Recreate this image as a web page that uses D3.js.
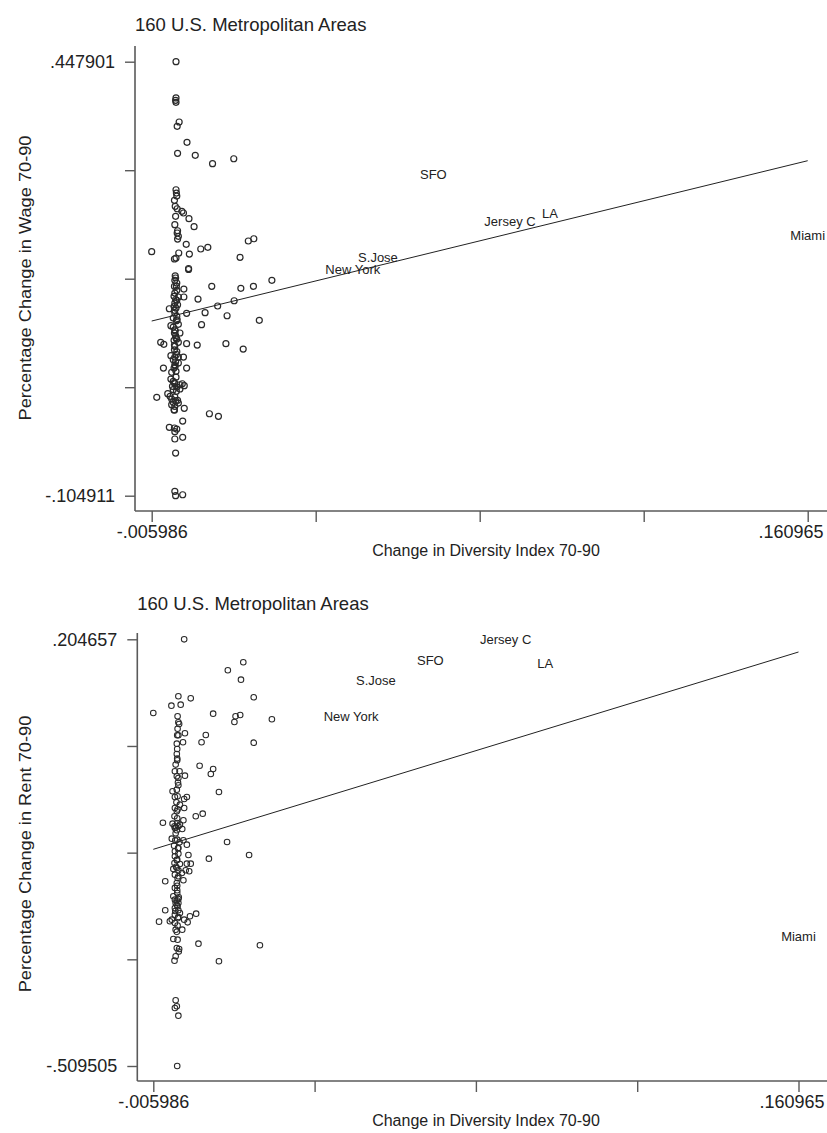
<!DOCTYPE html>
<html><head><meta charset="utf-8">
<script src="https://cdn.jsdelivr.net/npm/d3@7"></script>
<style>
body{margin:0;background:#fff}
text{font-family:"Liberation Sans",Arial,Helvetica,sans-serif;fill:#222}
</style>
</head><body>
<svg id="c" width="827" height="1133"></svg>
<script>
// ---------- data ----------
const chartTitle = "160 U.S. Metropolitan Areas";
const xTitle = "Change in Diversity Index 70-90";
const wageTitle = "Percentage Change in Wage 70-90";
const rentTitle = "Percentage Change in Rent 70-90";

const divExtent = [-0.005986, 0.160965];
const divTickLabels = ["-.005986", ".160965"];
const wageExtent = [-0.104911, 0.447901];
const wageTickLabels = ["-.104911", ".447901"];
const rentExtent = [-0.509505, 0.204657];
const rentTickLabels = ["-.509505", ".204657"];

const cityNames = ["SFO", "Jersey C", "LA", "S.Jose", "New York", "Miami"];
const cityDiv   = [0.0657, 0.0852, 0.0954, 0.0516, 0.0452, 0.160965];
const cityWage  = [0.3045, 0.2441, 0.2548, 0.1982, 0.1835, 0.2268];
const cityRent  = [0.1700, 0.2040, 0.1650, 0.1365, 0.0763, -0.2919];

// fitted lines: [intercept, slope]
const wageFit = [0.1249, 1.2231];
const rentFit = [-0.1350, 1.978];

const wageX = [
0.0002,0.0002,0.0001,0.0002,0.0010,0.0005,0.0030,0.0006,0.0051,0.0095,
0.0149,0.0002,0.0003,0.0004,-0.0002,0.0000,0.0005,0.0017,0.0021,0.0001,
0.0035,-0.0001,0.0048,0.0006,0.0005,0.0008,0.0006,0.0028,-0.00599,0.0009,
0.0036,0.0065,0.0083,0.0186,0.0200,-0.0002,0.0002,0.0165,0.0034,0.0034,
0.0093,0.0167,0.0199,0.0246,0.0058,0.0150,0.0108,0.0076,0.0029,0.0132,
0.0067,0.0214,0.0056,0.0129,0.0173,-0.0037,-0.0029,0.0029,
0.0001,-0.0001,0.0004,-0.0002,0.0022,0.0004,-0.0001,-0.0003,0.0022,0.0008,
0.0004,-0.0001,0.0006,0.0002,-0.0015,-0.0002,-0.0001,0.0004,-0.0005,0.0005,
0.0008,-0.0011,-0.0005,-0.0001,-0.0002,0.0012,0.0001,0.0004,-0.0003,0.0008,
-0.0001,-0.0002,0.0004,-0.0011,-0.0001,0.0008,0.0021,-0.0005,0.0001,
-0.0030,-0.0001,0.0008,-0.0003,0.0002,0.0029,-0.0009,
-0.0011,-0.0005,-0.0001,-0.0007,0.0004,0.0012,0.0018,0.0023,0.0012,-0.0005,
-0.0047,-0.0019,-0.0013,-0.0009,-0.0001,0.0006,-0.0005,0.0008,-0.0009,-0.0001,-0.0003,0.0023,
0.0087,0.0110,0.0019,-0.0015,-0.0002,-0.0001,-0.0001,0.0019,0.0001,-0.0001,0.0001,0.0019,
0.0000,0.0003,0.0001,-0.0003,0.0003,0.0000,0.0002,-0.0002,0.0003,0.0000,0.0002,-0.0002,0.0003,0.0001,-0.0002,0.0004
];
const wageY = [
0.4479,0.4017,0.3987,0.3962,0.3711,0.3656,0.3452,0.3312,0.3287,0.3180,
0.3243,0.2848,0.2806,0.2768,0.2713,0.2637,0.2606,0.2573,0.2552,0.2510,
0.2479,0.2403,0.2377,0.2326,0.2297,0.2255,0.2220,0.2153,0.2059,0.2042,
0.2029,0.2093,0.2115,0.2195,0.2224,0.1966,0.1978,0.1987,0.1845,0.1832,
0.1618,0.1592,0.1618,0.1694,0.1456,0.1434,0.1367,0.1282,0.1274,0.1243,
0.1129,0.1185,0.0870,0.0887,0.0819,0.0904,0.0879,0.0887,
0.1724,0.1694,0.1660,0.1618,0.1583,0.1567,0.1532,0.1490,0.1482,0.1482,
0.1439,0.1405,0.1383,0.1341,0.1332,0.1312,0.1278,0.1236,0.1214,0.1192,
0.1134,0.1116,0.1099,0.1065,0.1023,0.1023,0.0989,0.0946,0.0930,0.0904,
0.0854,0.0810,0.0785,0.0734,0.0717,0.0717,0.0717,0.0683,0.0657,
0.0577,0.0619,0.0641,0.0577,0.0535,0.0577,0.0522,
0.0437,0.0408,0.0377,0.0344,0.0335,0.0364,0.0377,0.0352,0.0310,0.0301,
0.0204,0.0250,0.0217,0.0182,0.0208,0.0166,0.0140,0.0131,0.0110,0.0089,0.0046,0.0064,
-0.0005,-0.0038,-0.0098,-0.0178,-0.0187,-0.0234,-0.0327,-0.0306,-0.0506,-0.0994,-0.1049,-0.1037,
0.1750,0.1620,0.1450,0.1360,0.1180,0.1050,0.0960,0.0870,0.0750,0.0600,0.0460,0.0390,0.0280,0.0160,0.0040,-0.0200
];

const rentX = [
0.0020,0.0173,0.0133,0.0167,0.0200,0.0005,0.0037,-0.0013,0.0011,-0.00599,
0.0095,0.0003,0.0153,0.0165,0.0150,0.0247,0.0005,0.0007,0.0002,0.0005,
0.0022,0.0076,0.0017,0.0065,0.0200,0.0002,0.0001,0.0002,0.0060,0.0095,
0.0089,-0.0004,0.0008,0.0001,0.0005,0.0022,0.0005,0.0001,-0.0010,0.0110,
-0.0004,0.0020,0.0027,0.0009,-0.0004,0.0020,0.0001,0.0050,0.0068,-0.0005,
-0.0035,-0.0010,0.0002,0.0009,0.0018,0.0005,-0.0004,0.0015,0.0001,-0.0005,
-0.0012,0.0002,0.0018,0.0027,0.0008,-0.0006,0.0005,-0.0004,0.0005,0.0131,
0.0031,0.0188,0.0084,-0.0004,0.0002,-0.0005,0.0009,0.0027,0.0037,-0.0008,
0.0001,0.0005,0.0024,0.0033,0.0014,-0.0004,0.0005,0.0018,-0.0029,0.0001,
-0.0004,0.0002,-0.0008,-0.0004,0.0001,0.0005,-0.0002,0.0005,0.0003,-0.0004,
-0.0029,0.0005,0.0009,-0.0004,0.0005,0.0051,0.0035,0.0020,0.0029,-0.0045,
-0.0017,-0.0012,-0.0004,0.0003,0.0015,-0.0002,-0.0008,0.0003,0.0057,0.0216,
0.0001,0.0007,-0.0002,-0.0005,0.0110,-0.0002,0.0001,-0.0004,0.0005,0.0002,
0.0003,0.0001,-0.0002,0.0004,0.0000,0.0002,-0.0002,0.0004,0.0001,-0.0001,0.0003,0.0002,
0.0001,-0.0003,0.0004,0.0001,0.0006,-0.0001,0.0002,0.0003,0.0003,-0.0003,0.0006,0.0002
];
const rentY = [
0.2046,0.1662,0.1528,0.1371,0.1076,0.1093,0.1059,0.0936,0.0952,0.0813,
0.0802,0.0758,0.0758,0.0780,0.0663,0.0708,0.0658,0.0629,0.0440,0.0440,
0.0474,0.0445,0.0323,0.0323,0.0316,0.0211,0.0127,0.0022,-0.0069,-0.0124,
-0.0208,-0.0162,-0.0162,-0.0246,-0.0274,-0.0236,-0.0397,-0.0470,-0.0497,-0.0509,
-0.0592,-0.0626,-0.0592,-0.0721,-0.0777,-0.0777,-0.0832,-0.0915,-0.0872,-0.0915,
-0.1023,-0.1039,-0.1028,-0.1056,-0.0982,-0.1083,-0.1111,-0.1128,-0.1150,-0.1083,
-0.1290,-0.1307,-0.1317,-0.1391,-0.1351,-0.1408,-0.1446,-0.1501,-0.1541,-0.1346,
-0.1563,-0.1563,-0.1625,-0.1585,-0.1642,-0.1697,-0.1714,-0.1709,-0.1709,-0.1797,
-0.1781,-0.1819,-0.1819,-0.1836,-0.1864,-0.1893,-0.1920,-0.1987,-0.2003,-0.2032,
-0.2115,-0.2154,-0.2254,-0.2311,-0.2321,-0.2300,-0.2367,-0.2367,-0.2422,-0.2450,
-0.2489,-0.2489,-0.2534,-0.2562,-0.2601,-0.2546,-0.2589,-0.2646,-0.2690,-0.2679,
-0.2673,-0.2646,-0.2701,-0.2746,-0.2813,-0.2813,-0.2969,-0.2981,-0.3048,-0.3074,
-0.3120,-0.3136,-0.3259,-0.3332,-0.3342,-0.3995,-0.4095,-0.4124,-0.4253,-0.5095,
0.0550,0.0300,-0.0050,-0.0350,-0.0680,-0.0950,-0.1200,-0.1450,-0.1650,-0.1760,-0.1950,-0.2200,
-0.2400,-0.2500,-0.2620,-0.2850,-0.3180,-0.1100,-0.2080,-0.0800,-0.0580,-0.1320,-0.2270,0.0050
];

// ---------- drawing ----------
const svg = d3.select("#c");
const AXIS_COLOR = "#5a5a5a";

function drawPanel(cfg) {
  const g = svg.append("g");
  const x = d3.scaleLinear().domain(divExtent).range([cfg.xL, cfg.xR]);
  const y = d3.scaleLinear().domain(cfg.yExtent).range([cfg.yB, cfg.yT]);
  const xt = d3.range(5).map(i => divExtent[0] + i * (divExtent[1] - divExtent[0]) / 4);
  const yt = d3.range(5).map(i => cfg.yExtent[0] + i * (cfg.yExtent[1] - cfg.yExtent[0]) / 4);

  // title
  g.append("text").attr("x", cfg.axisX).attr("y", cfg.titleY)
    .attr("font-size", 18.5).text(chartTitle);

  // y axis
  const ya = g.append("g").attr("transform", `translate(${cfg.axisX},0)`)
    .call(d3.axisLeft(y).tickValues(yt).tickSize(10).tickPadding(10)
      .tickFormat((d, i) => i === 0 ? cfg.yLabels[0] : (i === 4 ? cfg.yLabels[1] : "")));
  ya.select(".domain").remove();
  g.append("line").attr("x1", cfg.axisX).attr("x2", cfg.axisX)
    .attr("y1", cfg.axisTop).attr("y2", cfg.axisY)
    .attr("stroke", AXIS_COLOR).attr("stroke-width", 1.6);

  // x axis
  const xa = g.append("g").attr("transform", `translate(0,${cfg.axisY})`)
    .call(d3.axisBottom(x).tickValues(xt).tickSize(11).tickPadding(3)
      .tickFormat((d, i) => i === 0 ? divTickLabels[0] : (i === 4 ? divTickLabels[1] : "")));
  xa.select(".domain").remove();
  g.append("line").attr("x1", cfg.axisX).attr("x2", 827)
    .attr("y1", cfg.axisY).attr("y2", cfg.axisY)
    .attr("stroke", AXIS_COLOR).attr("stroke-width", 1.6);

  [ya, xa].forEach(a => {
    a.attr("font-size", null).attr("font-family", null);
    a.selectAll(".tick line").attr("stroke", AXIS_COLOR).attr("stroke-width", 1.4);
    a.selectAll(".tick text").attr("font-size", 18).attr("fill", "#222");
  });
  // last x label kept inside the frame
  xa.selectAll(".tick text").filter((d, i) => i === 4)
    .attr("text-anchor", "end").attr("x", cfg.xLabelEnd - x(divExtent[1]));

  // axis titles
  g.append("text").attr("x", cfg.xTitleX).attr("y", cfg.xTitleY)
    .attr("text-anchor", "middle").attr("font-size", 16).text(xTitle);
  g.append("text")
    .attr("transform", `translate(${cfg.yTitleX},${cfg.yTitleCY}) scale(1,1.14) rotate(-90)`)
    .attr("text-anchor", "middle").attr("font-size", 16).text(cfg.yTitle);

  // fitted line
  g.append("line")
    .attr("x1", x(divExtent[0])).attr("y1", y(cfg.fit[0] + cfg.fit[1] * divExtent[0]))
    .attr("x2", x(divExtent[1])).attr("y2", y(cfg.fit[0] + cfg.fit[1] * divExtent[1]))
    .attr("stroke", "#222").attr("stroke-width", 1);

  // points
  g.append("g").selectAll("circle").data(d3.zip(cfg.xs, cfg.ys)).join("circle")
    .attr("cx", d => x(d[0])).attr("cy", d => y(d[1])).attr("r", cfg.r)
    .attr("fill", "none").attr("stroke", "#2a2a2a").attr("stroke-width", cfg.sw);

  // city labels
  g.append("g").selectAll("text").data(d3.zip(cityNames, cityDiv, cfg.cityY)).join("text")
    .attr("x", d => x(d[1])).attr("y", d => y(d[2]))
    .attr("text-anchor", "middle").attr("dy", "0.35em")
    .attr("font-size", 13).text(d => d[0]);
}

drawPanel({
  yExtent: wageExtent, yLabels: wageTickLabels, yTitle: wageTitle,
  xs: wageX, ys: wageY, cityY: cityWage, fit: wageFit,
  axisX: 135, axisTop: 46, axisY: 511,
  xL: 151.7, xR: 807.7, yT: 61.7, yB: 495.7, xLabelEnd: 823,
  titleY: 31, xTitleX: 486, xTitleY: 556, yTitleX: 31, yTitleCY: 278,
  r: 3.0, sw: 1.2
});
drawPanel({
  yExtent: rentExtent, yLabels: rentTickLabels, yTitle: rentTitle,
  xs: rentX, ys: rentY, cityY: cityRent, fit: rentFit,
  axisX: 137.3, axisTop: 633, axisY: 1081,
  xL: 153.3, xR: 798.5, yT: 639.3, yB: 1066, xLabelEnd: 824,
  titleY: 610, xTitleX: 486, xTitleY: 1126, yTitleX: 31, yTitleCY: 854,
  r: 2.8, sw: 1.05
});
</script>
</body></html>
